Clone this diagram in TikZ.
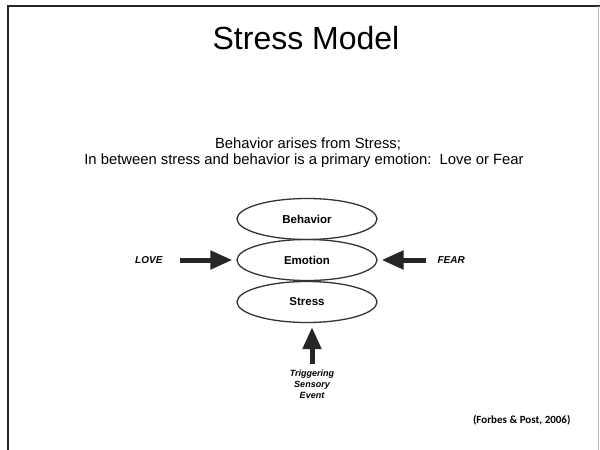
\documentclass[tikz,border=0pt]{standalone}
\usepackage{fontspec}
\setmainfont{Liberation Sans}
\newfontfamily\citefont{Carlito}
\usetikzlibrary{shapes.geometric,arrows.meta}
\begin{document}
\begin{tikzpicture}[x=1pt,y=-1pt,
  layer/.style={ellipse,draw=black!80,line width=1.3pt,minimum width=140pt,minimum height=41pt,inner sep=0pt,font=\fontsize{11.5}{13}\selectfont\bfseries},
  side/.style={font=\fontsize{10}{12}\selectfont\bfseries\itshape},
  fat/.style={line width=5pt,black!85,-{Triangle[length=22pt,width=18pt]}}]
\useasboundingbox (0,0) rectangle (600,450);
\fill[white] (0,0) rectangle (600,450);
\draw[line width=1.5pt,black!85] (8,450) -- (8,6) -- (600,6);
\draw[line width=0.8pt,black!25] (598,6) -- (598,450);
\node (title) at (306,38) {\fontsize{32}{36}\selectfont Stress Model};
\node (sub1) at (308,144) {\fontsize{14.8}{17}\selectfont Behavior arises from Stress;};
\node (sub2) at (304,161) {\fontsize{14.8}{17}\selectfont In between stress and behavior is a primary emotion:\ \ Love or Fear};
\node[layer] (beh) at (307,219) {Behavior};
\node[layer] (emo) at (307,260) {Emotion};
\node[layer] (str) at (307,302) {Stress};
\node[side,anchor=east] (love) at (166,260) {LOVE};
\node[side,anchor=west] (fear) at (434,260) {FEAR};
\node[font=\fontsize{9}{11}\selectfont\bfseries\itshape,align=center,anchor=north] (trig) at (312,366) {Triggering\\Sensory\\Event};
\node[anchor=east] (cite) at (574,420) {\citefont\bfseries\fontsize{11}{13}\selectfont (Forbes \& Post, 2006)};
\draw[fat,shorten <=14pt,shorten >=4pt] (love.east) -- (emo.west);
\draw[fat,shorten <=8pt,shorten >=4pt] (fear.west) -- (emo.east);
\draw[fat,shorten <=2pt,shorten >=4pt] (trig.north) -- (trig.north |- str.south);
\end{tikzpicture}
\end{document}
